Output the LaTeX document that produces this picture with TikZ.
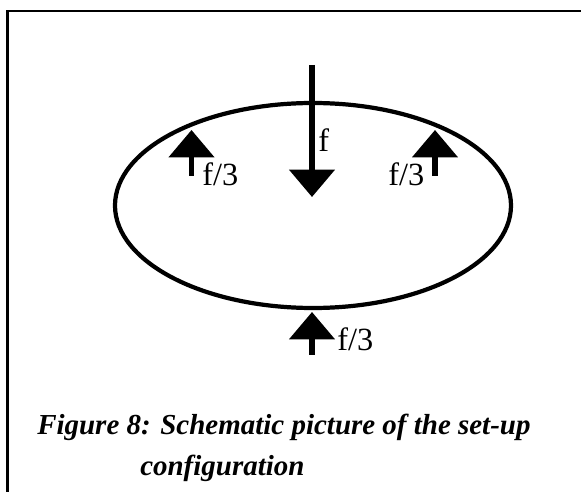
\documentclass[tikz,border=0pt]{standalone}
\usepackage{fontspec}
\setmainfont{Liberation Serif}
\usetikzlibrary{arrows.meta}

\begin{document}
\begin{tikzpicture}[
  x=0.025cm,
  y=-0.025cm,
  every node/.style={font=\fontsize{23pt}{26pt}\selectfont, inner sep=0pt},
  frame/.style={line width=1.6pt},
  ring/.style={line width=3pt},
  force/.style={line width=3.6pt, -{Triangle[width=32pt, length=19.5pt]}},
  caption/.style={font=\fontsize{20.6pt}{24pt}\selectfont\bfseries\itshape}
]
  \useasboundingbox (0,0) rectangle (581,492);

  % ---- the frame round the figure ---------------------------------------
  \draw[frame] (7.5,492) -- (7.5,11) -- (581,11);

  % ---- the body ----------------------------------------------------------
  \draw[ring] (313,205.5) ellipse [x radius=198, y radius=102.5];

  % ---- the load from above -----------------------------------------------
  \coordinate (loadtop) at (312,65);
  \coordinate (loadtip) at (312,197);
  \draw[force] (loadtop) -- (loadtip);
  \node[anchor=base west] (loadlabel) at (318,152) {f};

  % ---- the three supports ------------------------------------------------
  \coordinate (leftfoot) at (191.5,176);
  \coordinate (lefttip) at (191.5,130);
  \draw[force] (leftfoot) -- (lefttip);
  \node[anchor=base west] (leftlabel) at (202,186) {f/3};

  \coordinate (rightfoot) at (435,176);
  \coordinate (righttip) at (435,130);
  \draw[force] (rightfoot) -- (righttip);
  \node[anchor=base west] (rightlabel) at (388,186) {f/3};

  \coordinate (bottomfoot) at (312,355);
  \coordinate (bottomtip) at (312,312);
  \draw[force] (bottomfoot) -- (bottomtip);
  \node[anchor=base west] (bottomlabel) at (337,351) {f/3};

  % ---- the caption -------------------------------------------------------
  \node[caption, anchor=base west] (captionone) at (37,435)
    {Figure 8: Schematic picture of the set-up};
  \node[caption, anchor=base west] (captiontwo) at (140,476)
    {configuration};
\end{tikzpicture}
\end{document}
